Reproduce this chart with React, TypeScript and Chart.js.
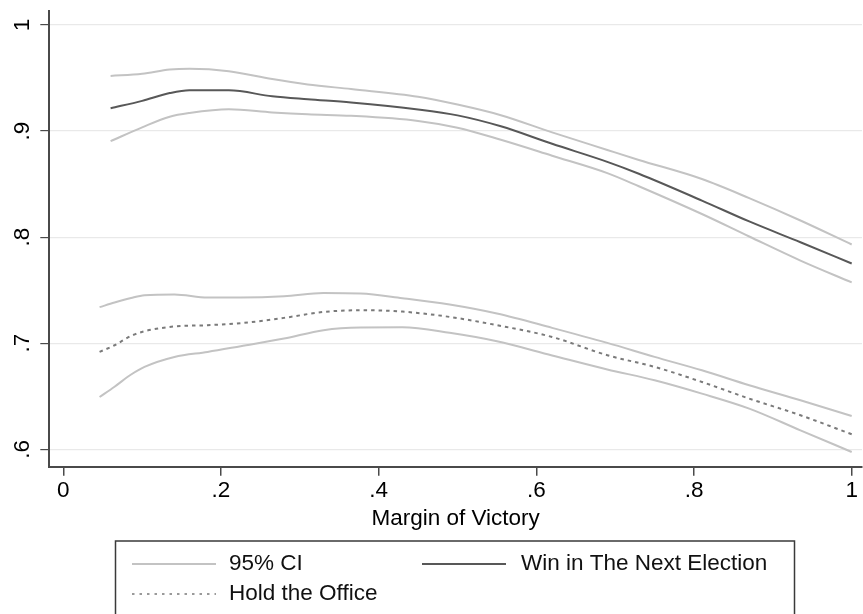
import { useEffect, useRef } from "react";
import { Chart, registerables } from "chart.js";

Chart.register(...registerables);

// Probability of winning the next election, by margin of victory
const winX = [0.06, 0.10, 0.135, 0.16, 0.21, 0.265, 0.31, 0.365, 0.45, 0.50, 0.555, 0.62, 0.69, 0.73, 0.81, 0.87, 0.935, 1.0];
const winUpper = [0.952, 0.954, 0.958, 0.9588, 0.9565, 0.949, 0.944, 0.9396, 0.9324, 0.925, 0.915, 0.8988, 0.8822, 0.8728, 0.8548, 0.8368, 0.8157, 0.7931];
const winMid = [0.9215, 0.9285, 0.9358, 0.9385, 0.9384, 0.9328, 0.930, 0.927, 0.9204, 0.9148, 0.9045, 0.888, 0.871, 0.8598, 0.8345, 0.8148, 0.7952, 0.7752];
const winLower = [0.8905, 0.9035, 0.9135, 0.917, 0.9205, 0.9176, 0.9158, 0.9144, 0.9096, 0.9032, 0.8918, 0.8768, 0.8604, 0.848, 0.8218, 0.8006, 0.7779, 0.7573];

// Probability of holding the office, by margin of victory
const holdX = [0.046, 0.065, 0.086, 0.103, 0.141, 0.183, 0.225, 0.28, 0.33, 0.377, 0.43, 0.49, 0.55, 0.62, 0.69, 0.75, 0.81, 0.87, 0.935, 1.0];
const holdUpper = [0.734, 0.7384, 0.7427, 0.7453, 0.746, 0.7431, 0.7431, 0.7443, 0.7474, 0.7469, 0.7425, 0.7365, 0.728, 0.7145, 0.7003, 0.6871, 0.6745, 0.6604, 0.6462, 0.6314];
const holdMid = [0.6918, 0.6981, 0.7069, 0.7113, 0.7158, 0.717, 0.7189, 0.7239, 0.7295, 0.7311, 0.7298, 0.7248, 0.717, 0.7059, 0.6887, 0.6777, 0.6635, 0.6478, 0.6321, 0.6142];
const holdLower = [0.6493, 0.659, 0.6705, 0.6777, 0.6871, 0.6918, 0.6972, 0.7044, 0.7123, 0.7148, 0.715, 0.7098, 0.7018, 0.6885, 0.6753, 0.6651, 0.6525, 0.6384, 0.6179, 0.5975];

// Axis ticks
const xTicks = [0, 0.2, 0.4, 0.6, 0.8, 1];
const xTickLabels = ["0", ".2", ".4", ".6", ".8", "1"];
const yTicks = [0.6, 0.7, 0.8, 0.9, 1];
const yTickLabels = [".6", ".7", ".8", ".9", "1"];

const xTitle = "Margin of Victory";
const legendLabels = ["95% CI", "Win in The Next Election", "Hold the Office"];

const FONT = "'Liberation Sans', Arial, Helvetica, sans-serif";
const FONT_SIZE = 22.5;
const CI_COLOR = "#c3c3c3";
const WIN_COLOR = "#585858";
const HOLD_COLOR = "#7a7a7a";
const AXIS_COLOR = "#4a4a4a";
const GRID_COLOR = "#e9e9e9";

const pts = (xs: number[], ys: number[]) => xs.map((x, i) => ({ x, y: ys[i] }));

const lineStyle = {
  pointRadius: 0,
  fill: false,
  cubicInterpolationMode: "monotone" as const,
  borderWidth: 2,
};

// Framed two-column legend below the axis title
const boxLegend = {
  id: "boxLegend",
  afterDraw(chart: any) {
    const ctx = chart.ctx as CanvasRenderingContext2D;
    ctx.save();
    ctx.strokeStyle = "#3a3a3a";
    ctx.lineWidth = 1.5;
    ctx.strokeRect(115.5, 541, 679, 120);

    const row1 = 564;
    const row2 = 594;
    const sample = (x0: number, x1: number, y: number, color: string, width: number, dash: number[]) => {
      ctx.beginPath();
      ctx.setLineDash(dash);
      ctx.strokeStyle = color;
      ctx.lineWidth = width;
      ctx.moveTo(x0, y);
      ctx.lineTo(x1, y);
      ctx.stroke();
      ctx.setLineDash([]);
    };
    sample(132, 216, row1, CI_COLOR, 2, []);
    sample(422, 506, row1, WIN_COLOR, 2, []);
    sample(132, 216, row2, HOLD_COLOR, 1.5, [2.5, 5]);

    ctx.fillStyle = "#111";
    ctx.font = `${FONT_SIZE}px ${FONT}`;
    ctx.textBaseline = "middle";
    ctx.textAlign = "left";
    ctx.fillText(legendLabels[0], 229, row1);
    ctx.fillText(legendLabels[1], 521, row1);
    ctx.fillText(legendLabels[2], 229, row2);
    ctx.restore();
  },
};

export default function App() {
  const canvasRef = useRef<HTMLCanvasElement | null>(null);

  useEffect(() => {
    const canvas = canvasRef.current;
    if (!canvas) return;
    const chart = new Chart(canvas, {
      type: "line",
      data: {
        datasets: [
          { label: legendLabels[0], data: pts(winX, winUpper), borderColor: CI_COLOR, ...lineStyle },
          { label: legendLabels[0], data: pts(winX, winLower), borderColor: CI_COLOR, ...lineStyle },
          { label: legendLabels[0], data: pts(holdX, holdUpper), borderColor: CI_COLOR, ...lineStyle },
          { label: legendLabels[0], data: pts(holdX, holdLower), borderColor: CI_COLOR, ...lineStyle },
          { label: legendLabels[1], data: pts(winX, winMid), borderColor: WIN_COLOR, ...lineStyle },
          { label: legendLabels[2], data: pts(holdX, holdMid), borderColor: HOLD_COLOR, borderDash: [3.5, 4], ...lineStyle },
        ],
      },
      options: {
        responsive: false,
        animation: false,
        devicePixelRatio: 1,
        layout: { padding: { top: 11, right: 1, bottom: 0, left: 0 } },
        plugins: {
          legend: { display: false },
          tooltip: { enabled: false },
        },
        scales: {
          x: {
            type: "linear",
            min: -0.01776,
            max: 1.01306,
            afterBuildTicks: (axis: any) => {
              axis.ticks = xTicks.map((value) => ({ value }));
            },
            afterFit: (axis: any) => {
              axis.height = 147.3;
              axis.paddingLeft = 0;
              axis.paddingRight = 0;
            },
            ticks: {
              autoSkip: false,
              maxRotation: 0,
              padding: 2,
              color: "#000",
              font: { family: FONT, size: FONT_SIZE },
              callback: (_v: any, i: number) => xTickLabels[i],
            },
            grid: {
              drawOnChartArea: false,
              drawTicks: true,
              tickLength: 9,
              color: AXIS_COLOR,
              tickColor: AXIS_COLOR,
              lineWidth: 1.5,
            },
            border: { display: true, color: AXIS_COLOR, width: 2 },
            title: {
              display: true,
              text: xTitle,
              color: "#000",
              font: { family: FONT, size: FONT_SIZE },
              padding: { top: 0, bottom: 82 },
            },
          },
          y: {
            type: "linear",
            min: 0.5836,
            max: 1.0132,
            afterBuildTicks: (axis: any) => {
              axis.ticks = yTicks.map((value) => ({ value }));
            },
            afterFit: (axis: any) => {
              axis.width = 49.3;
              axis.paddingTop = 0;
              axis.paddingBottom = 0;
            },
            ticks: {
              autoSkip: false,
              minRotation: 90,
              maxRotation: 90,
              crossAlign: "center",
              padding: 8,
              color: "#000",
              font: { family: FONT, size: FONT_SIZE },
              callback: (_v: any, i: number) => yTickLabels[i],
            },
            grid: {
              drawOnChartArea: true,
              drawTicks: true,
              tickLength: 9,
              color: GRID_COLOR,
              tickColor: AXIS_COLOR,
              lineWidth: 1.2,
            },
            border: { display: true, color: AXIS_COLOR, width: 2 },
          },
        },
      },
      plugins: [boxLegend],
    });
    return () => chart.destroy();
  }, []);

  return (
    <div style={{ position: "fixed", left: 0, top: 0, width: 863, height: 614, background: "#fff" }}>
      <canvas ref={canvasRef} width={863} height={614} style={{ display: "block" }} />
    </div>
  );
}
